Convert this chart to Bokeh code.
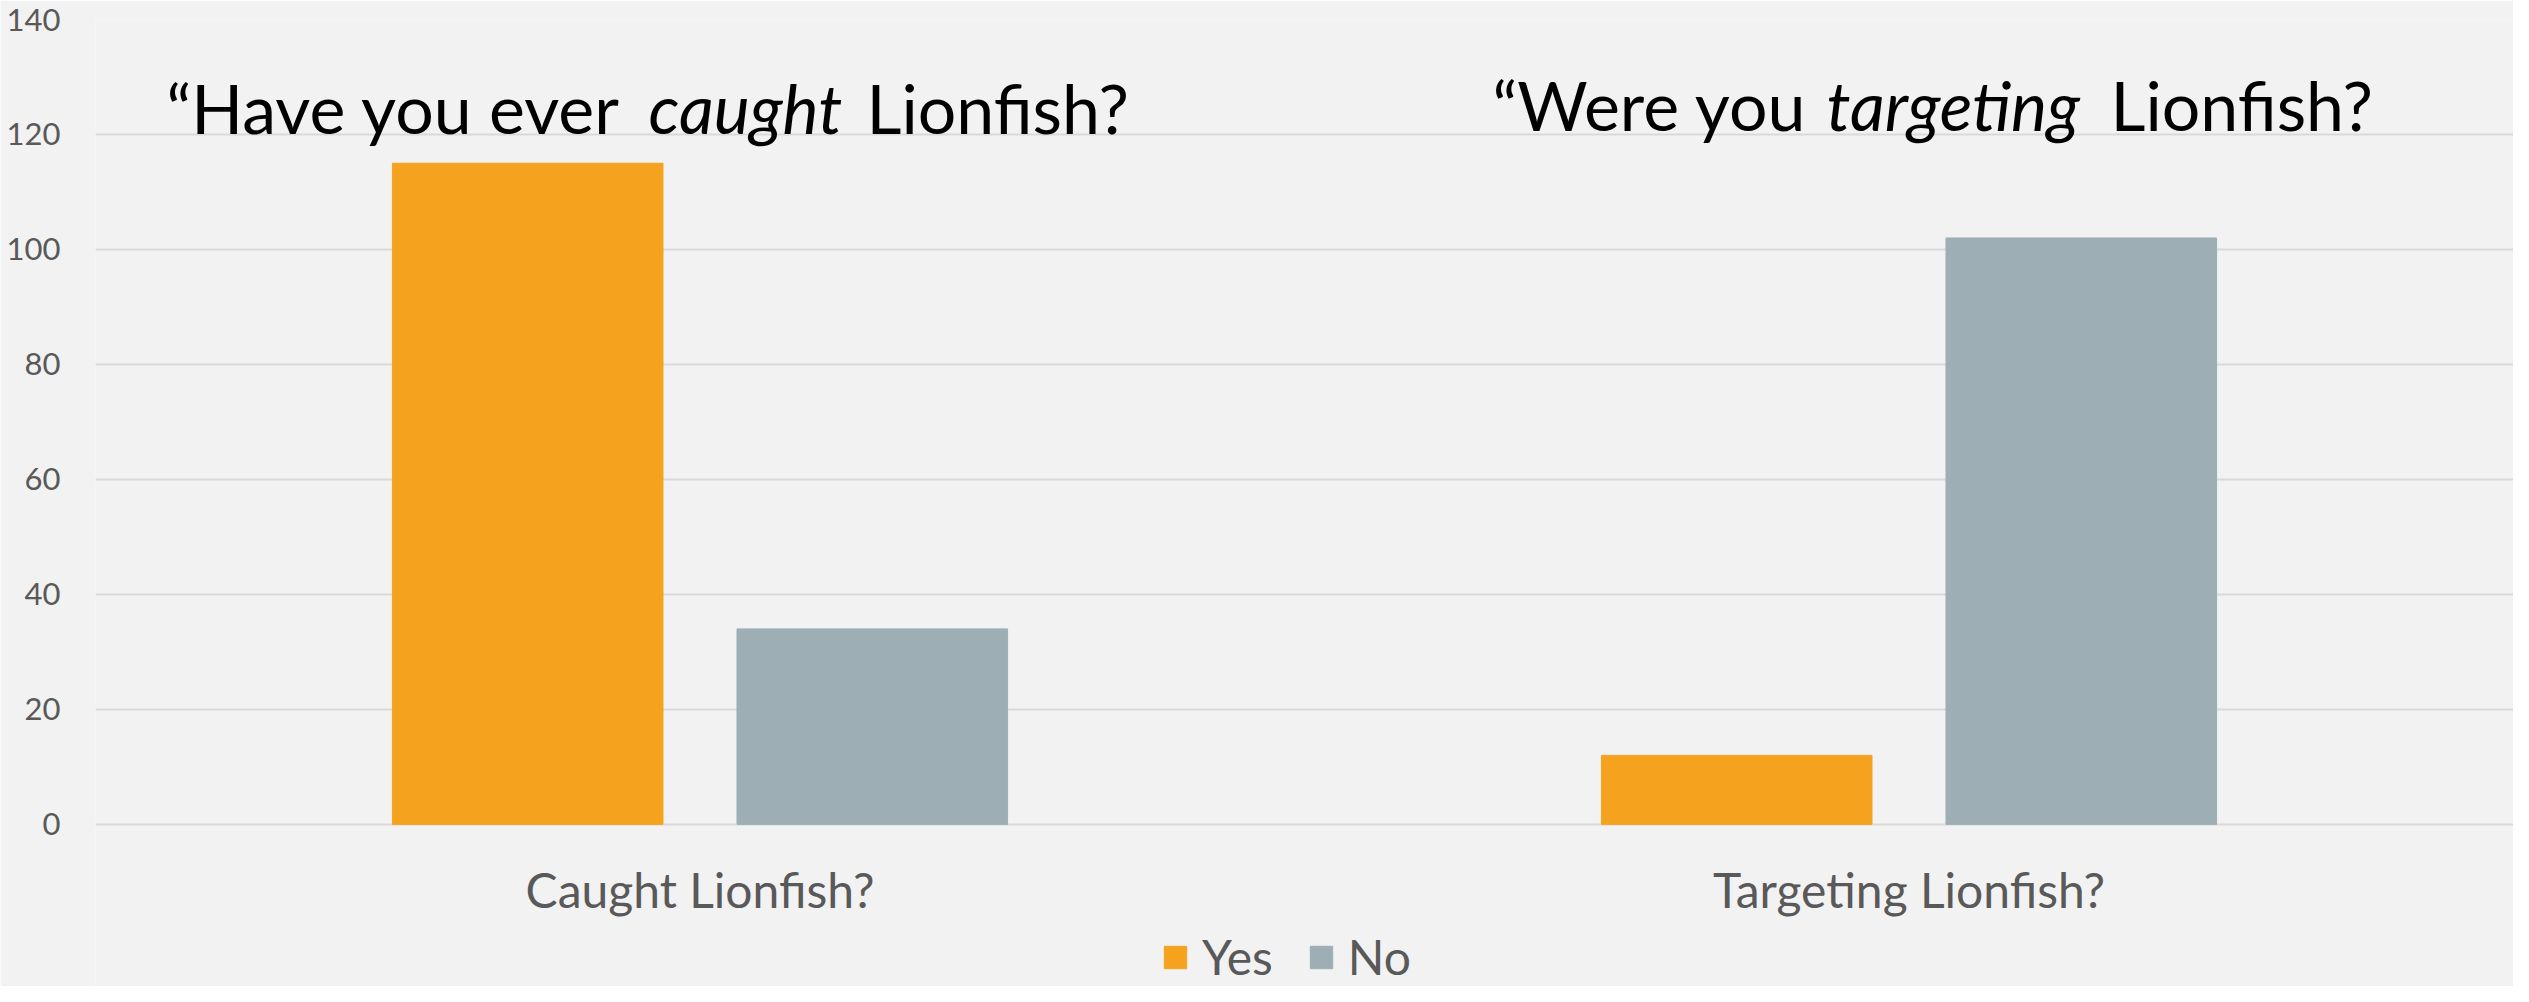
from bokeh.plotting import figure
from bokeh.models import FactorRange, Range1d, Label, Legend, LegendItem, FixedTicker, ColumnDataSource
from bokeh.transform import dodge
from bokeh.embed import file_html
from bokeh.resources import INLINE

categories = ["Caught Lionfish?", "Targeting Lionfish?"]
yes_values = [115, 12]
no_values = [34, 102]
series_names = ["Yes", "No"]
y_ticks = [0, 20, 40, 60, 80, 100, 120, 140]

BG = "#F2F2F2"
ORANGE = "#F5A31F"
GREY = "#9DAFB4"
TXT = "#595959"
FONT = "Lato"

src = ColumnDataSource(dict(cat=categories, yes=yes_values, no=no_values))

# frame runs from the top gridline down to the figure bottom; the extra space
# under 0 holds the category labels and the legend
p = figure(x_range=FactorRange(*categories), y_range=Range1d(-28.2, 140),
           width=2513, height=986, output_backend="svg", toolbar_location=None,
           min_border_left=95, min_border_right=0, min_border_top=19, min_border_bottom=0)
p.background_fill_color = BG
p.border_fill_color = BG
p.outline_line_color = None

r_yes = p.vbar(x=dodge("cat", -0.1425, range=p.x_range), top="yes", width=0.2238,
               source=src, fill_color=ORANGE, line_color=ORANGE)
r_no = p.vbar(x=dodge("cat", 0.1425, range=p.x_range), top="no", width=0.2238,
              source=src, fill_color=GREY, line_color=GREY)

p.xgrid.grid_line_color = None
p.ygrid.grid_line_color = "#D9D9D9"
p.ygrid.grid_line_width = 2
p.yaxis.ticker = FixedTicker(ticks=y_ticks)
p.xaxis.fixed_location = 0
for ax in (p.xaxis[0], p.yaxis[0]):
    ax.axis_line_color = None
    ax.major_tick_line_color = None
    ax.minor_tick_line_color = None
    ax.major_label_text_color = TXT
    ax.major_label_text_font = FONT
p.yaxis.major_label_text_font_size = "31px"
p.yaxis.major_label_standoff = 29
p.xaxis.major_label_text_font_size = "48px"
p.xaxis.major_label_standoff = 31

# titles (segments with italic words), positioned in data units
segs = [
    ("\u201cHave you ever", 0.0587, 124.7, "normal"),
    ("caught", 0.4574, 124.7, "italic"),
    ("Lionfish?", 0.6377, 124.7, "normal"),
    ("\u201cWere you", 1.1555, 125.2, "normal"),
    ("targeting", 1.4318, 125.2, "italic"),
    ("Lionfish?", 1.6667, 125.2, "normal"),
]
for txt, x, y, style in segs:
    p.add_layout(Label(x=x, y=y, text=txt,
                       text_font=FONT, text_font_size="68px", text_font_style=style,
                       text_color="black", text_baseline="alphabetic", text_align="left"))

legend = Legend(items=[LegendItem(label=series_names[0], renderers=[r_yes]),
                       LegendItem(label=series_names[1], renderers=[r_no])],
                location=(1066, 1), orientation="horizontal",
                glyph_width=28, glyph_height=28, label_standoff=13, spacing=34,
                padding=0, margin=0, border_line_color=None, background_fill_alpha=0,
                label_text_font=FONT, label_text_font_size="48px", label_text_color=TXT)
p.add_layout(legend, "center")

open("out.html", "w").write(file_html(p, INLINE))
